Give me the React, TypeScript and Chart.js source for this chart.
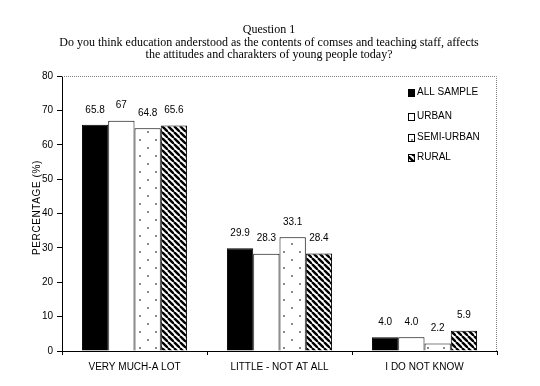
import React, { useEffect, useRef } from "react";
import { Chart, registerables } from "chart.js";

Chart.register(...registerables);

const categories = ["VERY MUCH-A LOT", "LITTLE - NOT AT ALL", "I DO NOT KNOW"];
const seriesNames = ["ALL SAMPLE", "URBAN", "SEMI-URBAN", "RURAL"];
const allSample = [65.8, 29.9, 4.0];
const urban = [67, 28.3, 4.0];
const semiUrban = [64.8, 33.1, 2.2];
const rural = [65.6, 28.4, 5.9];
const allSampleLabels = ["65.8", "29.9", "4.0"];
const urbanLabels = ["67", "28.3", "4.0"];
const semiUrbanLabels = ["64.8", "33.1", "2.2"];
const ruralLabels = ["65.6", "28.4", "5.9"];
const titleLines = [
  "Question 1",
  "Do you think education anderstood as the contents of comses and teaching staff, affects",
  "the attitudes and charakters of young people today?",
];
const yAxisTitle = "PERCENTAGE (%)";
const yMin = 0;
const yMax = 80;
const yStep = 10;

const SANS = "'Liberation Sans', Arial, sans-serif";
const SERIF = "'Liberation Serif', 'Times New Roman', serif";

function makeDotPattern(ctx: CanvasRenderingContext2D): CanvasPattern | string {
  const c = document.createElement("canvas");
  c.width = 16;
  c.height = 16;
  const g = c.getContext("2d")!;
  g.fillStyle = "#ffffff";
  g.fillRect(0, 0, 16, 16);
  g.fillStyle = "#8a8a8a";
  g.fillRect(3, 3, 2, 2);
  g.fillRect(11, 11, 2, 2);
  return ctx.createPattern(c, "repeat") || "#fff";
}

function makeHatchPattern(ctx: CanvasRenderingContext2D): CanvasPattern | string {
  const s = 6;
  const c = document.createElement("canvas");
  c.width = s;
  c.height = s;
  const g = c.getContext("2d")!;
  g.fillStyle = "#ffffff";
  g.fillRect(0, 0, s, s);
  g.strokeStyle = "#000000";
  g.lineWidth = 2.4;
  for (const off of [-s, 0, s]) {
    g.beginPath();
    g.moveTo(off, 0);
    g.lineTo(off + s, s);
    g.stroke();
  }
  return ctx.createPattern(c, "repeat") || "#555";
}

export default function App() {
  const ref = useRef<HTMLCanvasElement | null>(null);

  useEffect(() => {
    const canvas = ref.current!;
    const ctx = canvas.getContext("2d")!;
    const dot = makeDotPattern(ctx);
    const hatch = makeHatchPattern(ctx);
    const fills: any[] = ["#000000", "#ffffff", dot, hatch];
    const valueSets = [allSample, urban, semiUrban, rural];
    const labelSets = [allSampleLabels, urbanLabels, semiUrbanLabels, ruralLabels];

    const overlay = {
      id: "overlay",
      afterDraw(chart: any) {
        const c = chart.ctx as CanvasRenderingContext2D;
        const area = chart.chartArea;
        c.save();
        // title
        c.fillStyle = "#000";
        c.textAlign = "center";
        c.textBaseline = "middle";
        c.font = `12px ${SERIF}`;
        const ty = [30, 43, 55];
        titleLines.forEach((t, i) => c.fillText(t, 269, ty[i]));

        // dotted top/right border
        c.strokeStyle = "#808080";
        c.lineWidth = 1;
        c.setLineDash([1, 1]);
        c.beginPath();
        c.moveTo(area.left, area.top + 0.5);
        c.lineTo(area.right - 0.5, area.top + 0.5);
        c.lineTo(area.right - 0.5, area.bottom);
        c.stroke();
        c.setLineDash([]);

        // y-axis title
        c.save();
        c.translate(37, (area.top + area.bottom) / 2 - 6);
        c.rotate(-Math.PI / 2);
        c.font = `10px ${SANS}`;
        (c as any).letterSpacing = "0.6px";
        c.fillText(yAxisTitle, 0, 0);
        c.restore();

        // value labels
        c.font = `10px ${SANS}`;
        c.textBaseline = "middle";
        chart.data.datasets.forEach((ds: any, di: number) => {
          const meta = chart.getDatasetMeta(di);
          meta.data.forEach((bar: any, i: number) => {
            c.fillText(labelSets[di][i], bar.x, bar.y - 15);
          });
        });

        // legend
        const lx = 408;
        const ly = [92, 116, 137, 157];
        c.textAlign = "left";
        seriesNames.forEach((n, i) => {
          c.fillStyle = fills[i];
          c.fillRect(lx, ly[i] - 3, 6, 7);
          c.strokeStyle = "#000";
          c.strokeRect(lx + 0.5, ly[i] - 2.5, 6, 7);
          c.fillStyle = "#000";
          c.fillText(n, lx + 9, ly[i]);
        });
        c.restore();
      },
    };

    const chart = new Chart(canvas, {
      type: "bar",
      data: {
        labels: categories,
        datasets: seriesNames.map((n, i) => ({
          label: n,
          data: valueSets[i],
          backgroundColor: fills[i],
          borderColor: "#000000",
          borderWidth: 1,
          barPercentage: 1,
          categoryPercentage: 0.725,
        })),
      },
      options: {
        responsive: false,
        animation: false,
        layout: { padding: { top: 76, right: 43, left: 0, bottom: 0 } },
        plugins: { legend: { display: false }, tooltip: { enabled: false }, title: { display: false } },
        scales: {
          x: {
            offset: true,
            grid: { offset: true, drawOnChartArea: false, drawTicks: true, tickLength: 4, color: "#000" },
            border: { display: true, color: "#000", width: 1 },
            ticks: { color: "#000", font: { family: SANS, size: 10 }, padding: 6, maxRotation: 0 },
            afterFit: (s: any) => { s.height = 35; },
          },
          y: {
            min: yMin,
            max: yMax,
            grid: { drawOnChartArea: false, drawTicks: true, tickLength: 5, color: "#000" },
            border: { display: true, color: "#000", width: 1 },
            ticks: { stepSize: yStep, color: "#000", font: { family: SANS, size: 10 }, padding: 4 },
            afterFit: (s: any) => { s.width = 62; },
          },
        },
      },
      plugins: [overlay],
    });
    return () => chart.destroy();
  }, []);

  return (
    <div style={{ position: "fixed", left: 0, top: 0, width: 540, height: 386, background: "#fff" }}>
      <canvas ref={ref} width={540} height={386} style={{ display: "block", width: 540, height: 386 }} />
    </div>
  );
}
